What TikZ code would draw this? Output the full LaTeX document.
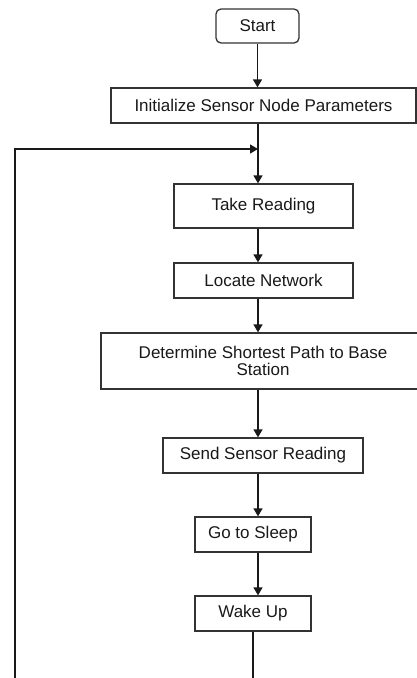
\documentclass[tikz,border=0pt]{standalone}
\usepackage{fontspec}
\setmainfont{Liberation Sans}
\usetikzlibrary{arrows.meta}

\tikzset{
  stepbox/.style={draw=black!80, line width=1.3pt, inner sep=0pt, minimum height=35pt,
    align=center, text=black!90, font=\fontsize{17}{17}\selectfont},
  arr/.style={-{Triangle[length=8pt,width=9pt]}, line width=1.3pt, draw=black!90}
}

\begin{document}
\begin{tikzpicture}[x=1pt,y=1pt]
  \useasboundingbox (0,0) rectangle (417,-678);

  \node[stepbox, rounded corners=5pt, minimum width=83pt, minimum height=34pt] (start) at (257.5,-26) {Start};
  \node[stepbox, minimum width=305pt] (init) at (263.5,-105.5) {Initialize Sensor Node Parameters};
  \node[stepbox, minimum width=179pt, minimum height=44pt] (take) at (263.5,-206) {Take Reading};
  \node[stepbox, minimum width=179pt] (locate) at (263.5,-280.5) {Locate Network};
  \node[stepbox, minimum width=324pt, minimum height=56pt] (path) at (263,-361) {Determine Shortest Path to Base\\Station};
  \node[stepbox, minimum width=200pt] (send) at (263,-455.5) {Send Sensor Reading};
  \node[stepbox, minimum width=116pt] (sleep) at (253,-534.5) {Go to Sleep};
  \node[stepbox, minimum width=116pt] (wake) at (253,-613.5) {Wake Up};

  \coordinate (spine) at (258,0);
  \coordinate (loop) at (258,-149);
  \coordinate (back) at (15,-149);

  \draw[arr] (start.south) -- (start.south |- init.north);
  \draw[arr] (init.south -| spine) -- (take.north -| spine);
  \draw[arr] (take.south -| spine) -- (locate.north -| spine);
  \draw[arr] (locate.south -| spine) -- (path.north -| spine);
  \draw[arr] (path.south -| spine) -- (send.north -| spine);
  \draw[arr] (send.south -| spine) -- (sleep.north -| spine);
  \draw[arr] (sleep.south -| spine) -- (wake.north -| spine);
  \draw[arr] (wake.south) -- ++(0,-80) -| (back) -- (loop);
\end{tikzpicture}
\end{document}
